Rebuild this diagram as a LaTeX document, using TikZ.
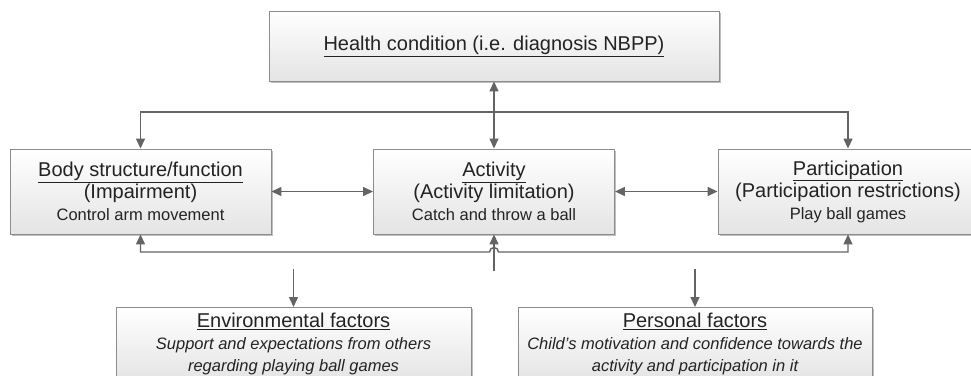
\documentclass[tikz,border=0pt]{standalone}
\usepackage{fontspec}
\setmainfont{Liberation Sans}
\usetikzlibrary{arrows.meta, shadows}

\definecolor{boxline}{RGB}{140,140,140}
\definecolor{boxfill}{RGB}{228,228,228}
\definecolor{linkgray}{RGB}{100,100,100}
\definecolor{textdark}{RGB}{35,35,35}

\newcommand{\boxnote}[1]{{\fontsize{16.5}{20}\selectfont #1}}

\begin{document}
\begin{tikzpicture}[x=1pt, y=-1pt,
        >={Triangle[length=10pt, width=9pt]},
        box/.style={draw=boxline, line width=0.9pt, top color=white, bottom color=boxfill,
            drop shadow={shadow xshift=1.5pt, shadow yshift=-1.5pt, opacity=0.25, fill=black},
            text=textdark, align=center, inner sep=0pt,
            font=\fontsize{20}{22}\selectfont},
        link/.style={draw=linkgray, line width=1.4pt}]
        \useasboundingbox (0, 0) rectangle (971, 375);
        \clip (0, 0) rectangle (971, 375);

        \node (health) at (494, 46)[box, minimum width=450pt, minimum height=70pt] {\underline{Health condition (i.e. diagnosis NBPP)}};

        \node (body) at (140.5, 191.5)[box, minimum width=261pt, minimum height=85pt] {\underline{Body structure/function}\\(Impairment)\\\boxnote{Control arm movement}};
        \node (act) at (494, 191.5)[box, minimum width=241pt, minimum height=85pt] {\underline{Activity}\\(Activity limitation)\\\boxnote{Catch and throw a ball}};
        \node (part) at (848, 191.5)[box, minimum width=260pt, minimum height=85pt] {\underline{Participation}\\(Participation restrictions)\\\boxnote{Play ball games}};

        \node (env) at (293.5, 307)[box, anchor=north, minimum width=355pt, inner ysep=6pt] {\underline{Environmental factors}\\\boxnote{\itshape Support and expectations from others}\\\boxnote{\itshape regarding playing ball games}};
        \node (pers) at (695, 307)[box, anchor=north, minimum width=354pt, inner ysep=6pt] {\underline{Personal factors}\\\boxnote{\itshape Child's motivation and confidence towards the}\\\boxnote{\itshape activity and participation in it}};

        \coordinate (topbar) at (494, 112);
        \coordinate (hop) at (489.5, 252);
        \coordinate (actin) at (494, 271);
        \coordinate (envin) at (293.5, 269);
        \coordinate (persin) at (695, 269);

        \draw[link, <->] (health) -- (act);
        \draw[link, <->] (body.north) |- (topbar) -| (part.north);
        \draw[link, <->] (body) -- (act);
        \draw[link, <->] (act) -- (part);
        \draw[link, <->] (body.south) |- (hop) arc[start angle=180, end angle=360, radius=4.5] -| (part.south);
        \draw[link, ->] (actin) -- (act.south);
        \draw[link, ->] (envin) -- (env.north);
        \draw[link, ->] (persin) -- (pers.north);
    \end{tikzpicture}
\end{document}
